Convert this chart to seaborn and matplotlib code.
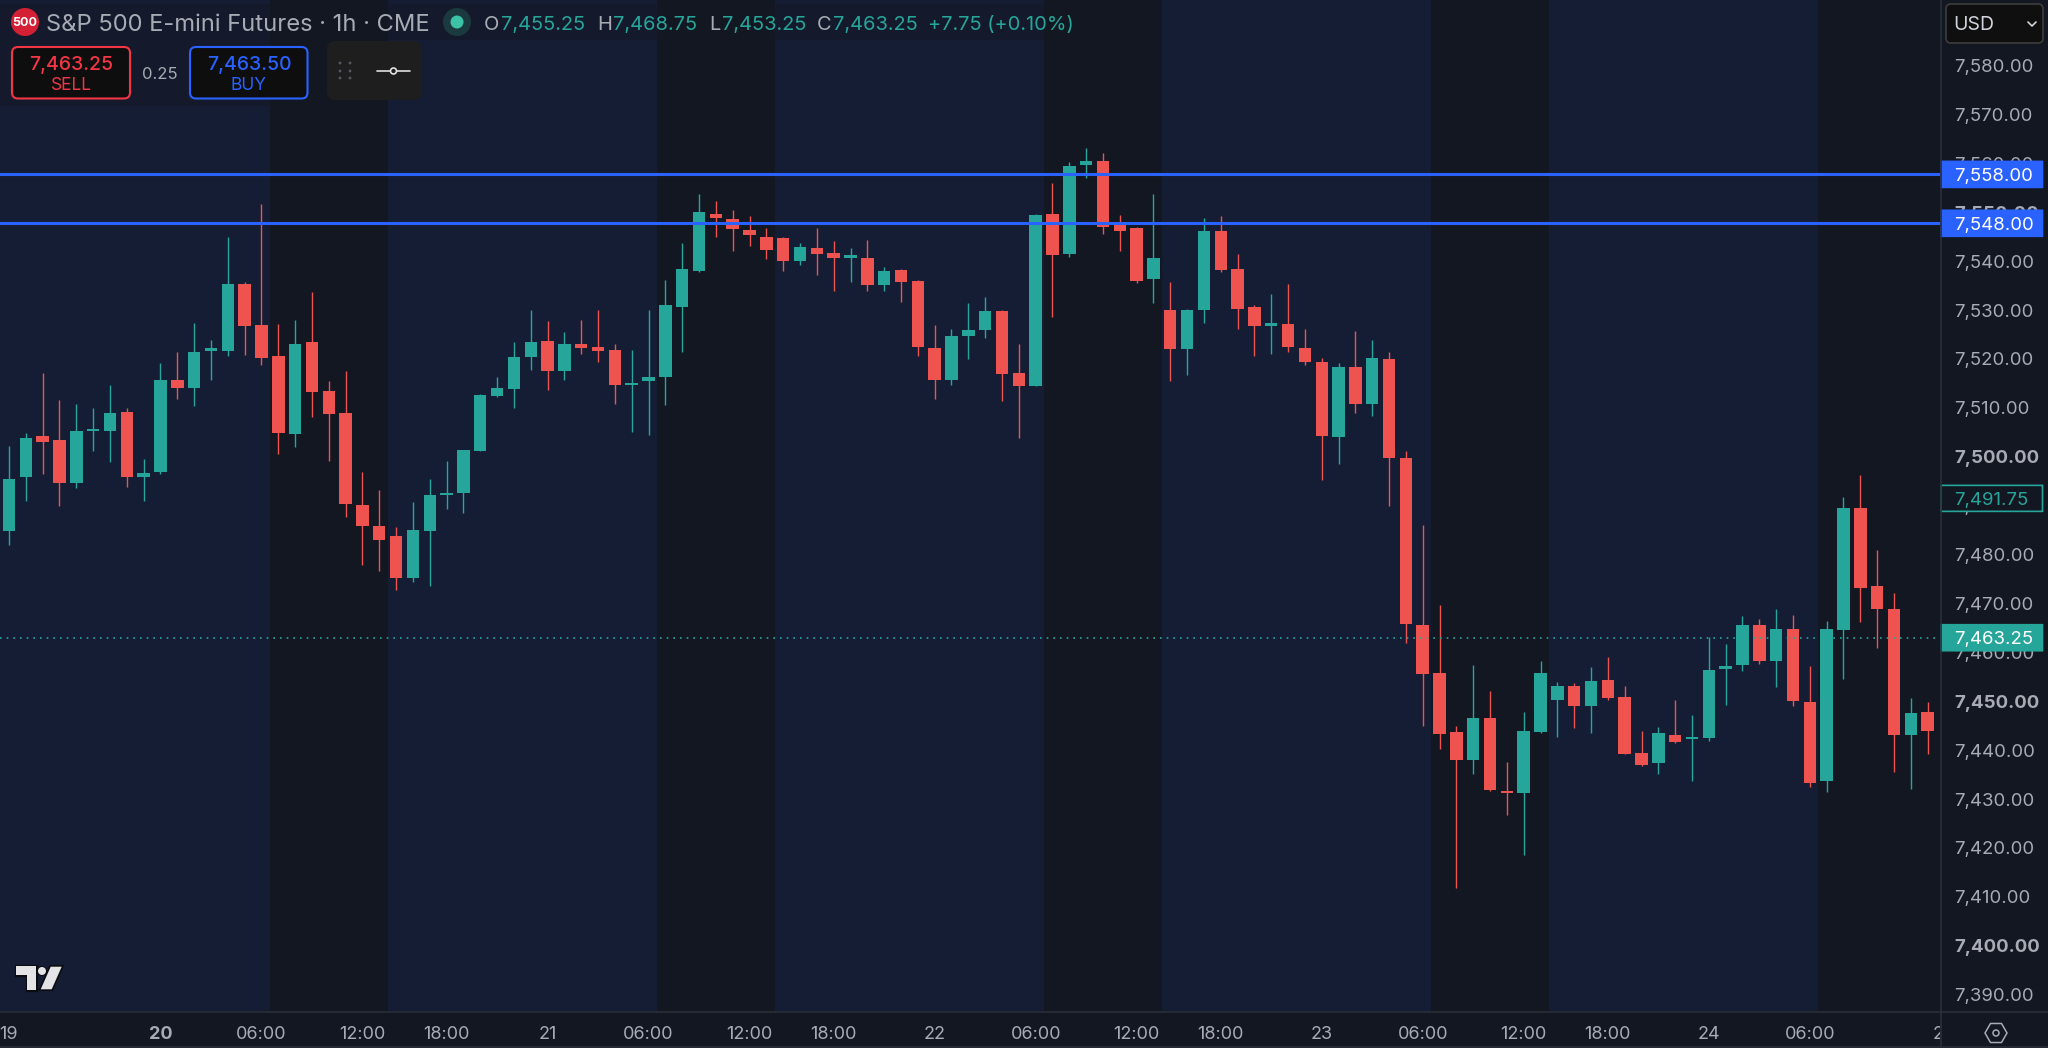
import numpy as np
import pandas as pd
import matplotlib
matplotlib.use("Agg")
import matplotlib.pyplot as plt
from matplotlib.patches import FancyBboxPatch, Circle, Polygon, RegularPolygon, Rectangle
from matplotlib.transforms import ScaledTranslation
import seaborn as sns

# ---- candle values (price), one entry per hourly bar ----
highs = [7502.5,7505.1,7517.4,7511.9,7511.0,7510.2,7514.9,7510.2,7499.7,7519.5,7521.7,7527.7,7524.2,7545.2,7536.0,7551.9,7527.4,7528.2,7534.0,7515.8,7517.8,7497.2,7493.4,7485.8,7491.1,7495.8,7499.3,7501.7,7513.1,
         7516.6,7523.7,7530.2,7528.0,7525.8,7528.2,7530.2,7523.4,7522.0,7530.2,7536.4,7544.0,7553.9,7552.5,7550.7,7549.4,7547.0,7545.3,7543.9,7547.0,7544.4,7542.9,7544.5,7539.0,7538.7,7536.4,7527.2,7526.4,7531.7,
         7533.0,7530.2,7523.3,7550.0,7556.2,7560.6,7563.5,7562.3,7549.6,7547.2,7553.9,7536.0,7530.4,7549.1,7549.5,7541.7,7531.3,7533.6,7535.5,7526.4,7520.4,7519.4,7526.0,7524.2,7521.7,7501.5,
         7486.4,7469.9,7445.1,7457.6,7452.3,7437.8,7448.0,7458.4,7454.2,7453.9,7457.2,7459.4,7453.4,7444.1,7444.9,7450.6,7447.4,7463.3,7462.0,7467.6,7467.1,7469.1,7467.8,7457.4,7466.6,7492.1,7496.6,7481.1,7472.4,7451.0,7450.2]
lows = [7482.2,7491.3,7496.8,7490.1,7493.9,7501.4,7499.2,7494.1,7491.2,7496.8,7512.0,7510.6,7516.0,7520.8,7521.0,7519.1,7500.9,7502.2,7508.3,7499.4,7487.9,7478.1,7476.9,7473.1,7474.7,7473.8,7489.6,7488.8,7501.4,
        7512.4,7510.2,7518.0,7514.0,7516.0,7521.2,7519.6,7511.1,7505.3,7504.7,7510.8,7521.6,7538.1,7545.3,7542.3,7543.4,7540.8,7538.2,7539.5,7537.4,7534.2,7536.0,7534.2,7534.2,7531.9,7520.9,7512.0,7514.9,7520.3,
        7524.6,7511.6,7504.0,7514.7,7528.8,7541.2,7557.2,7545.9,7542.3,7535.7,7531.8,7515.8,7517.0,7527.7,7538.1,7526.4,7520.8,7521.2,7521.6,7519.1,7495.5,7498.8,7509.3,7508.5,7490.1,7462.1,
        7445.3,7440.4,7412.0,7435.4,7432.0,7427.0,7418.8,7443.8,7443.0,7444.7,7443.8,7450.6,7439.5,7437.0,7435.4,7441.7,7434.0,7442.2,7449.4,7456.5,7457.8,7453.2,7449.3,7432.7,7431.8,7454.9,7466.4,7461.1,7435.7,7432.3,7439.5]
opens = [7485.0,7496.1,7504.6,7503.6,7494.8,7505.5,7505.6,7509.5,7496.2,7497.1,7516.0,7514.3,7521.9,7521.9,7535.5,7527.2,7520.8,7505.0,7523.8,7513.7,7509.3,7490.3,7486.1,7484.0,7475.5,7485.1,7492.4,7492.9,7501.4,
         7512.6,7514.2,7520.6,7524.0,7517.7,7523.3,7522.8,7522.1,7514.9,7515.7,7516.6,7530.8,7538.3,7550.0,7548.9,7546.6,7545.3,7544.9,7540.3,7542.9,7541.9,7541.0,7541.0,7535.4,7538.5,7536.2,7522.5,7516.0,7525.0,
         7526.2,7530.0,7517.4,7514.7,7549.9,7541.8,7560.0,7560.8,7547.6,7547.0,7536.6,7530.2,7522.3,7530.3,7546.5,7538.6,7530.9,7527.1,7527.5,7522.5,7519.7,7504.2,7518.7,7511.0,7520.2,7500.0,
         7465.8,7456.0,7443.9,7438.3,7446.8,7431.9,7431.4,7444.0,7450.6,7453.4,7449.3,7454.7,7451.1,7439.7,7437.7,7443.3,7442.5,7442.8,7456.8,7457.6,7465.8,7458.5,7465.0,7450.1,7433.9,7464.8,7489.8,7473.8,7469.1,7443.4,7448.1]
closes = [7495.8,7504.0,7503.2,7494.8,7505.6,7505.7,7509.3,7496.1,7497.0,7516.0,7514.3,7521.7,7522.2,7535.5,7527.1,7520.4,7505.1,7523.4,7513.6,7508.9,7490.6,7486.0,7483.2,7475.5,7485.3,7492.4,7492.7,7501.7,7512.8,
          7514.3,7520.7,7523.7,7517.7,7523.3,7522.4,7521.9,7514.9,7515.4,7516.6,7531.3,7538.6,7550.4,7549.0,7546.8,7545.6,7542.5,7540.3,7543.1,7541.8,7540.9,7541.3,7535.4,7538.2,7536.0,7522.7,7516.0,7525.0,7526.2,
          7530.0,7517.2,7514.7,7549.6,7541.5,7559.8,7560.8,7547.3,7546.5,7536.3,7541.0,7522.3,7530.2,7546.5,7538.5,7530.5,7526.9,7527.4,7522.7,7519.6,7504.5,7518.7,7511.0,7520.4,7500.0,7466.0,
          7455.8,7443.6,7438.3,7446.8,7432.2,7431.4,7444.1,7456.0,7453.4,7449.2,7454.3,7450.9,7439.5,7437.3,7443.7,7442.0,7442.7,7456.6,7457.4,7465.8,7458.5,7465.0,7450.4,7433.6,7465.0,7489.8,7473.4,7469.1,7443.4,7447.9,7444.1]
bar_index = list(range(1, len(opens) + 1))

# session bands (first bar, last bar) and time axis
dark_sessions = [(17, 23), (40, 46), (63, 69), (86, 92), (109, 116)]
time_ticks = [1, 10, 16, 22, 27, 33, 39, 45, 50, 56, 62, 68, 73, 79, 85, 91, 96, 102, 108, 115.6]
time_labels = ["19", "20", "06:00", "12:00", "18:00", "21", "06:00", "12:00", "18:00", "22",
               "06:00", "12:00", "18:00", "23", "06:00", "12:00", "18:00", "24", "06:00", "2"]
price_ticks = list(range(7390, 7590, 10))
bold_prices = [7400, 7450, 7500, 7550]
level_prices = [7558.0, 7548.0]
last_price = 7463.25
prev_price = 7491.75

BLUE_BG, DARK_BG = "#151D35", "#131722"
TEAL, RED, LINE = "#26A69A", "#EF5350", "#2962FF"
TXT = "#A8ABB4"
FONT = ["Inter", "DejaVu Sans"]
W, H, AX_R, AX_B = 2048, 1048, 1940, 1011

sns.set_theme(style="dark", rc={"axes.facecolor": BLUE_BG, "figure.facecolor": DARK_BG})
plt.rcParams["font.family"] = FONT

fig = plt.figure(figsize=(W / 100, H / 100), dpi=100)
ax = fig.add_axes([0, 1 - AX_B / H, AX_R / W, AX_B / H])
ax_time = fig.add_axes([0, 1 / H, AX_R / W, (H - AX_B - 1) / H], sharex=ax, facecolor=DARK_BG)
ax_price = fig.add_axes([AX_R / W, 1 - AX_B / H, 1 - AX_R / W, AX_B / H], sharey=ax, facecolor=DARK_BG)

df = pd.DataFrame({"bar": bar_index, "open": opens, "high": highs, "low": lows, "close": closes})
df["bottom"] = df[["open", "close"]].min(axis=1)
df["body"] = (df["open"] - df["close"]).abs().clip(lower=0.5)
df["up"] = df["close"] >= df["open"]

for a, b in dark_sessions:
    ax.axvspan(a - 0.5, b + 0.5, color=DARK_BG, lw=0, zorder=0)

for is_up, colour in [(True, TEAL), (False, RED)]:
    part = df[df["up"] == is_up]
    ax.vlines(part["bar"], part["low"], part["high"], color=colour, lw=1.0, zorder=2)
    sns.barplot(data=part, x="bar", y="body", bottom=part["bottom"].values, native_scale=True,
                color=colour, saturation=1, width=0.74, errorbar=None, linewidth=0, zorder=3, ax=ax)

for p in level_prices:
    ax.axhline(p, color=LINE, lw=2.2, zorder=5)
ax.axhline(last_price, color=TEAL, lw=1.2, ls=(0, (1, 3)), zorder=4)

px_per_bar = 16.83
ax.set_xlim(1 - 9 / px_per_bar, 1 + (AX_R - 9) / px_per_bar)
ax.set_ylim(7548 - (AX_B - 223.3) / 4.89, 7548 + 223.3 / 4.89)
ax.set_xlabel("")
ax.set_ylabel("")
ax.grid(False)
ax.tick_params(left=False, bottom=False, labelleft=False, labelbottom=False)
for s in ax.spines.values():
    s.set_visible(False)

# time axis
ax_time.set_xticks(time_ticks)
ax_time.set_xticklabels(time_labels)
ax_time.tick_params(axis="x", length=0, pad=-9, labelsize=13, colors=TXT)
ax_time.set_yticks([])
for lab, txt in zip(ax_time.get_xticklabels(), time_labels):
    lab.set_clip_on(True)
    lab.set_clip_box(ax_time.bbox)
    lab.set_verticalalignment("center")
    if txt == "20":
        lab.set_fontweight("bold")
for s in ax_time.spines.values():
    s.set_visible(False)

# price scale
ax_price.set_xlim(AX_R, W)
ax_price.set_yticks(price_ticks)
ax_price.set_yticklabels([f"{p:,.2f}" for p in price_ticks])
ax_price.tick_params(axis="y", length=0, pad=-10, labelsize=13.4, colors=TXT, labelleft=True)
ax_price.tick_params(axis="x", bottom=False, labelbottom=False)
ax_price.grid(False)
for lab, p in zip(ax_price.get_yticklabels(), price_ticks):
    lab.set_horizontalalignment("left")
    lab.set_verticalalignment("center_baseline")
    lab.set_transform(lab.get_transform() + ScaledTranslation(0, 1.3 / 100, fig.dpi_scale_trans))
    if p in bold_prices:
        lab.set_fontweight("bold")
for s in ax_price.spines.values():
    s.set_visible(False)


def tag(price, text, face, edge, colour):
    half = 13 / 4.89
    ax_price.add_patch(FancyBboxPatch((1941, price - half), 101.5, 2 * half, boxstyle="round,pad=0,rounding_size=0.01",
                                      fc=face, ec=edge, lw=1.2, zorder=5, mutation_aspect=1))
    ax_price.text(1954, price, text, color=colour, fontsize=13.4, va="center_baseline", ha="left", zorder=6)


for p in level_prices:
    tag(p, f"{p:,.2f}", LINE, LINE, "#FFFFFF")
tag(prev_price, f"{prev_price:,.2f}", DARK_BG, TEAL, TEAL)
tag(last_price, f"{last_price:,.2f}", TEAL, TEAL, "#FFFFFF")

# overlay in pixel coordinates (top-left origin) for the trading widgets and legend
ov = fig.add_axes([0, 0, 1, 1], facecolor="none", zorder=10)
ov.set_xlim(0, W)
ov.set_ylim(H, 0)
ov.axis("off")

for xs, ys in [([0, W], [1011.5, 1011.5]), ([0, W], [1046.7, 1046.7]), ([1940.5, 1940.5], [0, 1047])]:
    ov.plot(xs, ys, color="#2A2E39", lw=1.2)


def box(x0, y0, x1, y1, fc, ec="none", lw=1.5, r=6):
    ov.add_patch(FancyBboxPatch((x0, y0), x1 - x0, y1 - y0, boxstyle=f"round,pad=0,rounding_size={r}",
                                fc=fc, ec=ec, lw=lw))


ov.add_patch(Rectangle((0, 4), 1078, 36, fc="#131722", alpha=0.45, lw=0))
ov.add_patch(Rectangle((0, 40), 325, 66, fc="#131722", alpha=0.45, lw=0))
ov.add_patch(Circle((25, 22), 14, fc="#D32035", lw=0))
ov.text(25, 22.5, "500", color="white", fontsize=9, fontweight="bold", ha="center", va="center")
ov.text(46, 25, "S&P 500 E-mini Futures · 1h · CME", color=TXT, fontsize=17.1, ha="left", va="center")
ov.add_patch(Circle((457, 22), 14, fc="#1B3A40", lw=0))
ov.add_patch(Circle((457, 22), 6.5, fc="#3CC2A6", lw=0))

legend_parts = [(484, "O", TXT), (501, "7,455.25", TEAL), (597, "H", TXT), (613, "7,468.75", TEAL),
                (709, "L", TXT), (722, "7,453.25", TEAL), (817, "C", TXT), (833, "7,463.25", TEAL),
                (928, "+7.75 (+0.10%)", TEAL)]
for x, t, c in legend_parts:
    ov.text(x, 25, t, color=c, fontsize=14.4, ha="left", va="center")

box(12, 47, 130, 98.5, "#0E0E0E", "#F23645", 1.5)
ov.text(71, 65, "7,463.25", color="#F23645", fontsize=14, fontweight="medium", ha="center", va="center")
ov.text(71, 85, "SELL", color="#F23645", fontsize=12.5, ha="center", va="center")
ov.text(160, 74.5, "0.25", color=TXT, fontsize=12, ha="center", va="center")
box(190, 47, 307.5, 98.5, "#0E0E0E", LINE, 1.5)
ov.text(249, 65, "7,463.50", color=LINE, fontsize=14, fontweight="medium", ha="center", va="center")
ov.text(249, 85, "BUY", color=LINE, fontsize=12.5, ha="center", va="center")

box(327, 41, 422, 100, "#1E1E1E", r=8)
for x in (340, 350):
    for y in (63, 71, 78):
        ov.add_patch(Circle((x, y), 1.4, fc="#55585F", lw=0))
ov.plot([377, 410], [71, 71], color="#E0E0E0", lw=1.2)
ov.add_patch(Circle((393.5, 71), 3, fc="#1E1E1E", ec="#E0E0E0", lw=1.2, zorder=5))

box(1946, 4, 2043, 43, "#0F0F0F", "#3D3D3D", 1.2, r=5)
ov.text(1953, 25.5, "USD", color="#D1D4DC", fontsize=14, ha="left", va="center")
ov.plot([2028, 2032, 2036], [22, 26, 22], color="#D1D4DC", lw=1.2)

# TradingView mark
tv_t = [(16, 966), (36, 966), (36, 990), (26.7, 990), (26.7, 975), (16, 975)]
tv_v = [(50.7, 966.7), (61.7, 966.7), (51.7, 989.3), (40.7, 989.3)]
for pts in (tv_t, tv_v):
    ov.add_patch(Polygon(pts, closed=True, fc="#E4E4E6", ec="#0A0C10", lw=2.4, joinstyle="miter"))
ov.add_patch(Circle((42, 971), 4, fc="#E4E4E6", ec="#0A0C10", lw=1.4))
for pts in (tv_t, tv_v):
    ov.add_patch(Polygon(pts, closed=True, fc="#E4E4E6", lw=0))
ov.add_patch(Circle((42, 971), 4, fc="#E4E4E6", lw=0))

# settings hexagon
ov.add_patch(RegularPolygon((1996, 1033), 6, radius=11, orientation=np.pi / 2, fc="none", ec=TXT, lw=1.1))
ov.add_patch(Circle((1996, 1033), 3, fc="none", ec=TXT, lw=1.1))

fig.savefig("out.png", dpi=100, facecolor=DARK_BG)
